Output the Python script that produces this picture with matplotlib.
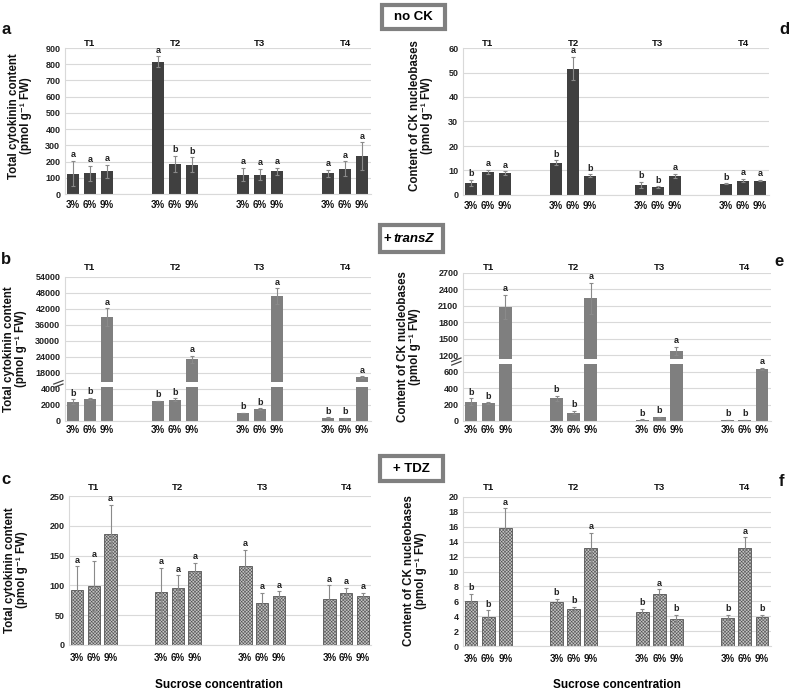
import numpy as np
import matplotlib
matplotlib.use('Agg')
import matplotlib.pyplot as plt
from matplotlib.patches import Rectangle

plt.rcParams['font.family'] = ['Liberation Sans', 'DejaVu Sans']
plt.rcParams['font.weight'] = 'bold'
plt.rcParams['hatch.linewidth'] = 0.4

# data
times = ['T1', 'T2', 'T3', 'T4']
conc = ['3%', '6%', '9%']

# no CK - total cytokinins (a)
a_mean = [125, 128, 139, 816, 184, 180, 119, 119, 141, 127, 155, 233]
a_err = [78, 45, 40, 33, 50, 47, 41, 35, 22, 22, 47, 86]
a_let = ['a', 'a', 'a', 'a', 'b', 'b', 'a', 'a', 'a', 'a', 'a', 'a']

# no CK - nucleobases (d)
d_mean = [4.8, 9.4, 9.0, 13.2, 51.6, 7.8, 4.1, 3.3, 7.8, 4.6, 5.9, 5.9]
d_err = [1.3, 1.0, 0.7, 1.0, 4.7, 0.6, 1.2, 0.3, 0.8, 0.2, 0.6, 0.3]
d_let = ['b', 'a', 'a', 'b', 'a', 'b', 'b', 'b', 'a', 'b', 'a', 'a']

# + transZ - total cytokinins (b)
b_mean = [2420, 2790, 39000, 2500, 2670, 23100, 1000, 1500, 46900, 420, 330, 16400]
b_err = [300, 120, 3300, 60, 150, 1250, 50, 80, 2900, 30, 50, 300]
b_let = ['b', 'b', 'a'] * 4

# + transZ - nucleobases (e)
e_mean = [235, 215, 2077, 275, 101, 2241, 16, 48, 1275, 12, 10, 632]
e_err = [40, 10, 220, 35, 20, 285, 4, 6, 80, 3, 2, 15]
e_let = ['b', 'b', 'a'] * 4

# + TDZ - total cytokinins (c)
c_mean = [92, 99, 186, 89, 95, 125, 132, 71, 82, 77, 87, 83]
c_err = [40, 42, 49, 41, 22, 13, 28, 17, 8, 23, 9, 4]
c_let = ['a'] * 12

# + TDZ - nucleobases (f)
f_mean = [6.1, 3.9, 15.9, 5.9, 5.0, 13.2, 4.5, 7.0, 3.6, 3.7, 13.1, 3.9]
f_err = [0.9, 0.9, 2.6, 0.4, 0.3, 2.0, 0.5, 0.6, 0.6, 0.5, 1.5, 0.25]
f_let = ['b', 'b', 'a', 'b', 'b', 'a', 'b', 'a', 'b', 'b', 'a', 'b']

W, H = 793, 690
fig = plt.figure(figsize=(W / 100, H / 100), dpi=100)

# bar positions: 4 groups of 3
group_pos = np.array([0, 5, 10, 15])
xpos = np.concatenate([g + np.array([-1, 0, 1]) for g in group_pos])


def make_axes(left, right, top, bottom):
    return fig.add_axes([left / W, 1 - bottom / H, (right - left) / W, (bottom - top) / H])


def broken(vals, units):
    vals = np.array(vals, float)
    units = np.array(units, float)

    def fwd(v):
        return np.interp(v, vals, units)

    def inv(u):
        return np.interp(u, units, vals)
    return fwd, inv


def panel(ax, mean, err, let, style, ticks, top, tpad, xpad, fn=None, gap=None):
    if fn is not None:
        ax.set_yscale('function', functions=fn)
    if style == 'dark':
        ax.bar(xpos, mean, width=0.75, color='#404040', zorder=2)
    elif style == 'mid':
        ax.bar(xpos, mean, width=0.75, color='#7f7f7f', zorder=2)
    else:
        ax.bar(xpos, mean, width=0.75, color='#c4c4c4', edgecolor='#555555',
               hatch='xxxxxxxxxx', linewidth=0.6, zorder=2)
    ax.errorbar(xpos, mean, yerr=err, fmt='none', ecolor='#8a8a8a',
                elinewidth=0.8, capsize=1.5, capthick=0.8, zorder=2.2)
    for x, m, e, l in zip(xpos, mean, err, let):
        ax.annotate(l, xy=(x, m + e), xytext=(0, 1.2), textcoords='offset points',
                    ha='center', va='bottom', fontsize=6.5, color='#222222')
    if gap is not None:
        ax.axhspan(gap[0], gap[1], facecolor='white', edgecolor='none', zorder=2.4)
    ax.set_ylim(0, top)
    ax.set_yticks(ticks)
    ax.set_yticklabels([str(t) for t in ticks])
    ax.set_xlim(-1.5, 16.5)
    ax.set_xticks(xpos)
    ax.set_xticklabels(conc * 4)
    ax.tick_params(axis='x', length=0, pad=xpad, labelsize=7, labelcolor='#111111')
    ax.tick_params(axis='y', length=0, pad=3, labelsize=6.5, labelcolor='#222222')
    ax.yaxis.grid(True, color='#d9d9d9', lw=0.8)
    ax.set_axisbelow(True)
    for s in ['top', 'right']:
        ax.spines[s].set_visible(False)
    for s in ['left', 'bottom']:
        ax.spines[s].set_color('#d9d9d9')
        ax.spines[s].set_linewidth(0.8)
    for g, t in zip(group_pos, times):
        ax.annotate(t, xy=(g, 1), xycoords=('data', 'axes fraction'),
                    xytext=(0, tpad), textcoords='offset points',
                    ha='center', va='center', fontsize=6.8, color='#111111')
    if gap is not None and fn is not None:
        u0 = fn[0](gap[0])
        u1 = fn[0](gap[1])
        ut = fn[0](top)
        ym = (u0 + u1) / 2 / ut
        for dy in (-0.012, 0.012):
            ax.plot([-0.035, -0.005], [ym + dy - 0.012, ym + dy + 0.012],
                    transform=ax.transAxes, color='#444444', lw=0.9, clip_on=False)


# panel a
ax_a = make_axes(64.5, 370.5, 48, 194)
panel(ax_a, a_mean, a_err, a_let, 'dark', list(range(0, 901, 100)), 900, 3.6, 4)

# panel d
ax_d = make_axes(462.5, 768.5, 48, 195)
panel(ax_d, d_mean, d_err, d_let, 'dark', list(range(0, 61, 10)), 60, 3.6, 4)

# panel b (broken axis)
fn_b = broken([-1e6, 0, 4300, 14800, 1e6],
              [-500, 0, 2.15, 3 + (14800 - 18000) / 6000, 3 + (1e6 - 18000) / 6000])
b_ticks = [0, 2000, 4000, 18000, 24000, 30000, 36000, 42000, 48000, 54000]
ax_b = make_axes(64.5, 370.5, 277, 421)
panel(ax_b, b_mean, b_err, b_let, 'mid', b_ticks, 54000, 6.5, 3, fn=fn_b, gap=(4300, 14800))

# panel e (broken axis)
fn_e = broken([-1e5, 0, 692, 1131, 1e5],
              [-500, 0, 692 / 200, 4 + (1131 - 1200) / 300, 4 + (1e5 - 1200) / 300])
e_ticks = [0, 200, 400, 600, 1200, 1500, 1800, 2100, 2400, 2700]
ax_e = make_axes(462.5, 770.5, 273, 421)
panel(ax_e, e_mean, e_err, e_let, 'mid', e_ticks, 2700, 3.6, 3, fn=fn_e, gap=(692, 1131))

# panel c
ax_c = make_axes(68.6, 371.4, 496, 645)
panel(ax_c, c_mean, c_err, c_let, 'hatch', list(range(0, 251, 50)), 250, 5.8, 6)

# panel f
ax_f = make_axes(462.5, 770.5, 497, 646)
panel(ax_f, f_mean, f_err, f_let, 'hatch', list(range(0, 21, 2)), 20, 6.5, 6)

# y labels
tot = 'Total cytokinin content\n(pmol g\u207b\u00b9 FW)'
nuc = 'Content of CK nucleobases\n(pmol g\u207b\u00b9 FW)'
for x, y, s in [(20, 116, tot), (421, 116, nuc), (15, 349, tot), (409, 347, nuc),
                (16, 570, tot), (415, 571, nuc)]:
    fig.text(x / W, 1 - y / H, s, rotation=90, ha='center', va='center',
             multialignment='center', fontsize=8.3, color='#111111', linespacing=1.05)

# panel letters
for x, y, s in [(1, 30, 'a'), (779, 30, 'd'), (1, 259, 'b'), (774, 262, 'e'),
                (1, 479, 'c'), (779, 482, 'f')]:
    fig.text(x / W, 1 - y / H, s, ha='left', va='center', fontsize=12, color='#111111')

# x axis titles
fig.text(219 / W, 1 - 685 / H, 'Sucrose concentration', ha='center', va='center', fontsize=8.5)
fig.text(617 / W, 1 - 685 / H, 'Sucrose concentration', ha='center', va='center', fontsize=8.5)

# treatment boxes
for (x0, y0, x1, y1) in [(382, 5, 445, 29), (380, 225, 443, 252), (380, 456, 443, 481)]:
    fig.add_artist(Rectangle((x0 / W, 1 - y1 / H), (x1 - x0) / W, (y1 - y0) / H,
                             transform=fig.transFigure, facecolor='white',
                             edgecolor='#808080', lw=3))
fig.text(413.5 / W, 1 - 17 / H, 'no CK', ha='center', va='center', fontsize=9.5)
fig.text(383 / W, 1 - 239 / H, '+', ha='left', va='center', fontsize=9.5)
fig.text(393 / W, 1 - 239 / H, 'transZ', ha='left', va='center', fontsize=9.5, style='italic')
fig.text(411.5 / W, 1 - 468.5 / H, '+ TDZ', ha='center', va='center', fontsize=9.5)

fig.savefig('out.png', dpi=100)
